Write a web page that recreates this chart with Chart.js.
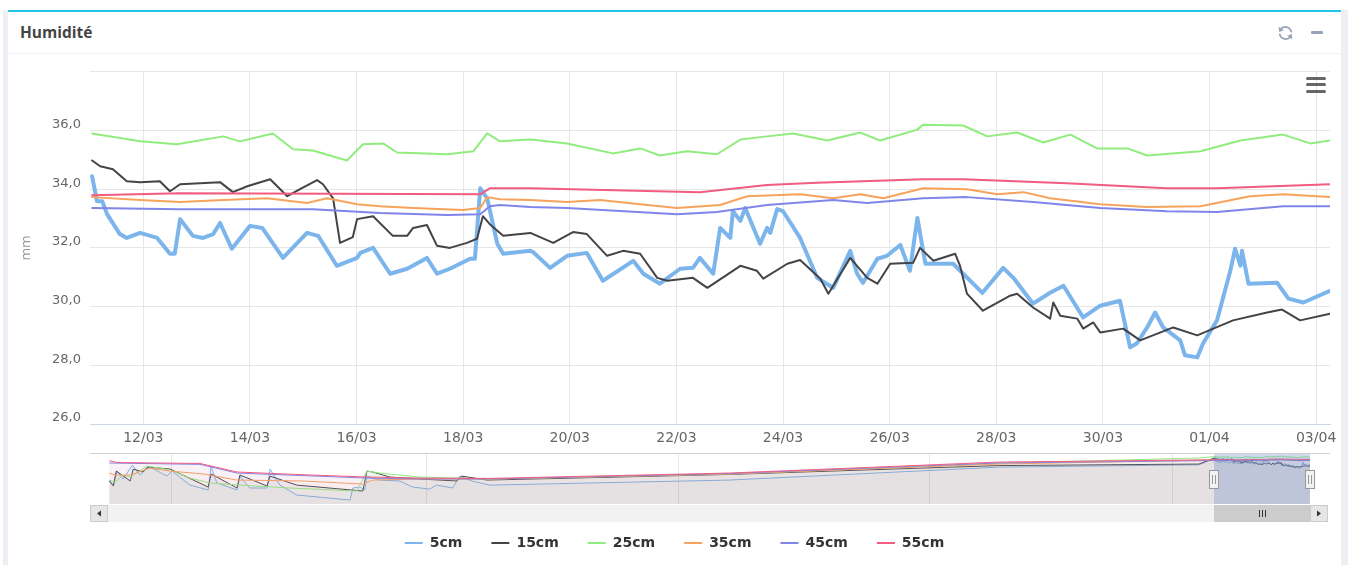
<!DOCTYPE html>
<html>
<head>
<meta charset="utf-8">
<script src="https://cdn.jsdelivr.net/npm/chart.js@4.4.0/dist/chart.umd.min.js"></script>
<style>
html, body { margin: 0; padding: 0; background: #fff; }
body { width: 1349px; height: 565px; position: relative; overflow: hidden; font-family: 'Open Sans', sans-serif; }
#page { position: absolute; left: 3px; top: 10px; width: 1345px; height: 555px; background: #eceff3; }
#card { position: absolute; left: 8px; top: 10px; width: 1333px; height: 555px; background: #fff; border-top: 2px solid #22c5e8; box-sizing: border-box; }
#headline { position: absolute; left: 8px; top: 53px; width: 1333px; height: 1px; background: #f2f2f2; }
#title { position: absolute; left: 20px; top: 22px; font-size: 15.5px; line-height: 20px; font-weight: 700; color: #444; }
#minus { position: absolute; left: 1311px; top: 31px; width: 12px; height: 3px; background: #97a3b6; border-radius: 1px; }
#menu { position: absolute; left: 1306px; top: 77px; width: 20px; height: 16px; z-index: 2; }
.bar { position: absolute; left: 0; width: 20px; height: 3px; background: #666; border-radius: 1.5px; }
canvas { position: absolute; left: 0; z-index: 1; }
</style>
</head>
<body>
<div id="page"></div>
<div id="card"></div>
<div id="headline"></div>
<div id="title">Humidité</div>
<svg style="position:absolute;left:1277px;top:25px" width="17" height="16" viewBox="0 0 17 16">
  <g fill="none" stroke="#97a3b6" stroke-width="1.8" stroke-linecap="round">
    <path d="M14.2 6.6 A6 6 0 0 0 3.4 4.6"/>
    <path d="M2.8 9.4 A6 6 0 0 0 13.6 11.4"/>
  </g>
  <path d="M1.6 1.8 L2.2 7 L6.8 5.2 Z" fill="#97a3b6"/>
  <path d="M15.4 14.2 L14.8 9 L10.2 10.8 Z" fill="#97a3b6"/>
</svg>
<div id="minus"></div>

<canvas id="main" width="1349" height="395" style="top:55px;width:1349px;height:395px"></canvas>
<canvas id="nav" width="1349" height="120" style="top:445px;width:1349px;height:120px"></canvas>

<div id="menu">
  <div class="bar" style="top:0"></div>
  <div class="bar" style="top:6px"></div>
  <div class="bar" style="top:13px"></div>
</div>

<script>
// jours depuis le 11/03/2023 00:00
const names = ['5cm', '15cm', '25cm', '35cm', '45cm', '55cm'];
const colors = ['#7cb5ec', '#434348', '#90ed7d', '#f7a35c', '#8085e9', '#f15c80'];

const tickDays = [1, 3, 5, 7, 9, 11, 13, 15, 17, 19, 21, 23];
const tickLabels = ['12/03', '14/03', '16/03', '18/03', '20/03', '22/03', '24/03', '26/03', '28/03', '30/03', '01/04', '03/04'];
const yTicks = [26, 28, 30, 32, 34, 36, 38];

const navTickDays = [-253, -191, -130, -69, -10];
const navTickLabels = ['07/2022', '09/2022', '11/2022', '01/2023', '03/2023'];

const t5 = [0.04,0.13,0.23,0.32,0.56,0.69,0.94,1.26,1.50,1.59,1.69,1.93,2.12,2.31,2.44,2.66,3.00,3.23,3.62,4.07,4.28,4.63,5.01,5.07,5.31,5.63,5.95,6.32,6.51,6.75,7.13,7.22,7.32,7.45,7.64,7.75,8.26,8.31,8.63,8.95,9.32,9.62,10.19,10.38,10.69,11.07,11.31,11.44,11.69,11.82,12.01,12.06,12.20,12.29,12.57,12.70,12.76,12.89,13.00,13.32,13.64,13.94,14.26,14.39,14.50,14.77,14.95,15.20,15.38,15.52,15.67,16.19,16.74,17.13,17.32,17.69,18.01,18.26,18.63,18.95,19.32,19.51,19.64,19.83,19.98,20.13,20.45,20.54,20.77,20.88,21.14,21.39,21.48,21.58,21.61,21.73,22.27,22.48,22.76,23.26];
const v5 = [34.44,33.59,33.59,33.15,32.47,32.34,32.51,32.34,31.80,31.80,32.98,32.41,32.34,32.47,32.85,31.97,32.75,32.68,31.66,32.51,32.41,31.39,31.66,31.83,32.00,31.12,31.29,31.66,31.12,31.29,31.63,31.63,34.03,33.69,32.14,31.80,31.90,31.86,31.32,31.73,31.83,30.88,31.56,31.12,30.78,31.29,31.32,31.66,31.12,32.68,32.34,33.25,32.92,33.36,32.14,32.68,32.51,33.32,33.25,32.34,30.98,30.64,31.90,31.12,30.81,31.63,31.73,32.10,31.22,33.02,31.46,31.46,30.47,31.32,30.98,30.10,30.47,30.71,29.63,30.03,30.20,28.61,28.75,29.29,29.80,29.29,28.85,28.34,28.27,28.75,29.53,31.22,31.97,31.39,31.90,30.78,30.81,30.27,30.14,30.54];

const t15 = [0.04,0.19,0.43,0.69,0.94,1.31,1.50,1.69,2.44,2.68,2.95,3.38,3.70,3.94,4.26,4.37,4.56,4.69,4.93,5.01,5.31,5.68,5.95,6.06,6.32,6.51,6.75,7.07,7.26,7.37,7.50,7.75,8.26,8.69,9.06,9.32,9.70,10.00,10.32,10.64,10.83,11.31,11.58,12.20,12.51,12.63,13.08,13.32,13.70,13.85,14.26,14.58,14.77,15.01,15.44,15.57,15.82,16.23,16.32,16.45,16.75,17.26,17.39,17.69,18.01,18.07,18.20,18.52,18.63,18.82,18.95,19.38,19.70,20.32,20.77,21.44,22.08,22.36,22.70,23.26];
const v15 = [34.98,34.78,34.68,34.27,34.24,34.27,33.93,34.17,34.24,33.90,34.10,34.34,33.76,34.00,34.31,34.17,33.69,32.17,32.37,32.98,33.08,32.41,32.41,32.68,32.78,32.07,32.00,32.17,32.31,33.08,32.81,32.41,32.51,32.17,32.54,32.47,31.73,31.90,31.80,30.98,30.88,30.98,30.64,31.39,31.22,30.95,31.46,31.59,30.95,30.44,31.66,30.98,30.78,31.46,31.49,32.00,31.56,31.80,31.39,30.44,29.86,30.37,30.44,29.97,29.59,30.14,29.69,29.59,29.25,29.46,29.12,29.25,28.85,29.29,29.02,29.53,29.80,29.90,29.53,29.76];

const t25 = [0.04,0.94,1.63,2.50,2.81,3.43,3.81,4.18,4.82,5.12,5.50,5.76,6.70,7.19,7.45,7.69,8.26,8.95,9.81,10.32,10.69,11.20,11.76,12.20,12.70,13.19,13.83,14.45,14.82,15.52,15.63,16.38,16.83,17.39,17.88,18.39,18.89,19.46,19.83,20.83,21.58,22.38,22.89,23.26];
const v25 = [35.90,35.63,35.53,35.80,35.63,35.90,35.36,35.32,34.98,35.53,35.56,35.25,35.19,35.29,35.90,35.63,35.69,35.56,35.22,35.39,35.15,35.29,35.19,35.69,35.80,35.90,35.66,35.93,35.66,36.03,36.20,36.17,35.80,35.93,35.59,35.86,35.39,35.39,35.15,35.29,35.66,35.86,35.56,35.66];

const t35 = [0.04,0.94,1.69,2.50,3.32,4.07,4.45,5.01,5.44,6.06,7.00,7.32,7.45,7.69,8.26,8.95,9.57,10.32,11.01,11.82,12.33,13.32,13.94,14.45,14.88,15.63,16.45,17.02,17.51,18.01,18.95,19.83,20.83,21.76,22.38,23.26];
const v35 = [33.73,33.63,33.56,33.63,33.69,33.53,33.69,33.49,33.42,33.36,33.29,33.36,33.73,33.66,33.63,33.56,33.63,33.49,33.36,33.46,33.76,33.83,33.69,33.83,33.69,34.03,34.00,33.83,33.90,33.69,33.49,33.39,33.42,33.76,33.83,33.73];

const t45 = [0.04,1.69,4.18,5.44,6.70,7.32,7.50,7.69,8.26,8.95,11.01,11.76,12.70,13.94,14.58,15.63,16.45,17.69,18.95,20.20,21.14,22.38,23.26];
const v45 = [33.36,33.32,33.32,33.19,33.12,33.15,33.42,33.46,33.39,33.36,33.15,33.22,33.46,33.63,33.53,33.69,33.73,33.56,33.36,33.25,33.22,33.42,33.42];

const t55 = [0.04,1.69,7.32,7.50,8.26,11.44,12.70,13.64,15.63,16.38,18.32,20.20,21.14,23.26];
const v55 = [33.79,33.86,33.83,34.03,34.03,33.90,34.14,34.22,34.34,34.34,34.20,34.03,34.03,34.17];

// navigateur : historique juin 2022 -> mars 2023
const navT5 = [-268,-267,-266.1,-264.6,-262.4,-260.5,-258.6,-254,-252.8,-248.4,-244,-243.3,-241.9,-237,-236.3,-233.9,-229.7,-229,-226.6,-222.5,-209.6,-208.9,-207.2,-206,-205.5,-202.4,-197.5,-194.4,-190.3,-188.6,-184.7,-183,-180.1,-175.7,-117.6,-52.2,-3.7];
const navV5 = [20.5,17.2,26.4,21.2,30.3,23.8,29.7,23.1,26.4,17.2,14.0,29.7,18.6,14.0,23.1,15.3,15.3,27.7,17.2,10.7,7.4,15.3,15.9,14.0,23.1,20.5,19.9,15.9,14.6,17.2,15.3,23.1,19.9,17.2,20.5,29.0,30.5];
const navT15 = [-268,-267,-266.3,-262.9,-262.2,-259.8,-258.6,-253.2,-244,-243.3,-237,-236.3,-229.7,-229,-222.5,-206.5,-205.5,-204.1,-200,-192.7,-183.7,-182.5,-176.4,-117.6,-52.2,-3.7];
const navV15 = [19.9,16.6,26.4,19.9,27.7,25.8,29.0,27.7,15.9,24.5,15.3,23.8,16.6,23.1,17.2,13.3,26.4,25.8,22.5,21.2,19.9,23.1,20.5,24.2,30.0,31.0];
const navT25 = [-268,-266.6,-264.6,-262.9,-258.8,-253.2,-248.4,-243.6,-236.3,-224.2,-207.9,-205.5,-202.4,-192.7,-175.7,-117.6,-52.2,-3.7];
const navV25 = [20.5,19.2,23.8,22.5,29.7,27.1,21.8,18.6,17.2,15.3,13.3,26.4,25.1,22.5,21.2,24.5,31.5,35.0];
const navT35 = [-268,-266.3,-262.9,-258.1,-253.2,-245.2,-237,-221,-206.5,-204.1,-192.7,-175.7,-117.6,-52.2,-3.7];
const navV35 = [25.1,23.8,23.8,28.4,26.4,24.5,20.5,19.9,17.9,20.5,21.2,21.2,24.5,31.0,33.5];
const navT45 = [-268,-246,-237,-205.5,-192.7,-175.7,-117.6,-52.2,-3.7];
const navV45 = [31.7,30.8,25.1,21.8,21.2,21.2,24.8,31.7,33.2];
const navT55 = [-268,-266,-246,-237,-221,-205.5,-192.7,-175.7,-117.6,-52.2,-3.7];
const navV55 = [33.2,32.0,31.4,25.8,24.0,22.5,21.8,21.6,25.1,32.3,33.7];

const viewStart = 0;
const viewEnd = 23.26;
const navStart = -268.3;

const mainT = [t5, t15, t25, t35, t45, t55];
const mainV = [v5, v15, v25, v35, v45, v55];
const navT = [navT5, navT15, navT25, navT35, navT45, navT55];
const navV = [navV5, navV15, navV25, navV35, navV45, navV55];

function pts(t, v) {
    return t.map((x, i) => ({ x, y: v[i] }));
}

function alpha(hex, a) {
    const n = parseInt(hex.slice(1), 16);
    return `rgba(${n >> 16}, ${(n >> 8) & 255}, ${n & 255}, ${a})`;
}

Chart.defaults.font.family = "'DejaVu Sans', sans-serif";

new Chart(document.getElementById('main'), {
    type: 'line',
    data: {
        datasets: names.map((name, i) => ({
            label: name,
            data: pts(mainT[i], mainV[i]),
            borderColor: colors[i],
            borderWidth: i === 0 ? 4 : 2,
            borderJoinStyle: 'round',
            borderCapStyle: 'round',
            pointRadius: 0,
            tension: 0,
            order: 5 - i
        }))
    },
    options: {
        responsive: false,
        animation: false,
        devicePixelRatio: 1,
        layout: { padding: { left: 17, right: 19, top: 14, bottom: 0 } },
        plugins: { legend: { display: false }, tooltip: { enabled: false } },
        scales: {
            x: {
                type: 'linear',
                min: viewStart,
                max: viewEnd,
                afterBuildTicks: s => { s.ticks = tickDays.map(v => ({ value: v })); },
                afterFit: s => { s.height = 26; },
                grid: { color: '#e6e6e6', drawTicks: false },
                border: { color: '#ccd6eb' },
                ticks: {
                    padding: 6, color: '#666', font: { size: 14 }, maxRotation: 0, autoSkip: false,
                    callback: v => tickLabels[tickDays.indexOf(v)]
                }
            },
            y: {
                min: 26,
                max: 38,
                afterBuildTicks: s => { s.ticks = yTicks.map(v => ({ value: v })); },
                afterFit: s => { s.width = 73; },
                grid: { color: '#e6e6e6', drawTicks: false },
                border: { display: false },
                ticks: {
                    padding: 9, labelOffset: -6, color: '#666', font: { size: 13 },
                    callback: v => v === 38 ? '' : v.toFixed(1).replace('.', ',')
                },
                title: { display: true, text: 'mm', color: '#999', font: { size: 13 }, padding: { top: 2, bottom: 0 } }
            }
        }
    }
});

const navExtras = {
    id: 'navExtras',
    beforeInit(chart) {
        const fit = chart.legend.fit;
        chart.legend.fit = function () {
            fit.bind(chart.legend)();
            this.height = 58;
        };
    },
    afterDatasetsDraw(chart) {
        const { ctx, chartArea: a, scales: { x } } = chart;
        const x0 = Math.round(x.getPixelForValue(viewStart));
        const x1 = Math.round(x.getPixelForValue(viewEnd));
        ctx.save();
        ctx.fillStyle = 'rgba(102, 133, 194, 0.3)';
        ctx.fillRect(x0, a.top, x1 - x0, a.bottom - a.top);

        ctx.strokeStyle = '#d0d0d0';
        ctx.lineWidth = 1;
        ctx.beginPath();
        ctx.moveTo(a.left - 18, a.top - 0.5);
        ctx.lineTo(a.right + 20, a.top - 0.5);
        ctx.stroke();

        // poignées
        const hy = Math.round((a.top + a.bottom) / 2 - 9);
        [x0, x1].forEach(hx => {
            ctx.fillStyle = '#f2f2f2';
            ctx.fillRect(hx - 4, hy, 8, 18);
            ctx.strokeStyle = '#999';
            ctx.strokeRect(hx - 4.5, hy + 0.5, 9, 18);
            ctx.beginPath();
            ctx.moveTo(hx - 1.5, hy + 5); ctx.lineTo(hx - 1.5, hy + 14);
            ctx.moveTo(hx + 1.5, hy + 5); ctx.lineTo(hx + 1.5, hy + 14);
            ctx.stroke();
        });

        // barre de défilement
        const sy = a.bottom + 1;
        const sh = 17;
        ctx.fillStyle = '#f2f2f2';
        ctx.fillRect(a.left, sy, a.right - a.left, sh);
        ctx.fillStyle = '#cccccc';
        ctx.fillRect(x0, sy, x1 - x0, sh);
        ctx.strokeStyle = '#333';
        const gx = Math.round((x0 + x1) / 2);
        ctx.beginPath();
        [-3, 0, 3].forEach(d => { ctx.moveTo(gx + d + 0.5, sy + 5); ctx.lineTo(gx + d + 0.5, sy + 12); });
        ctx.stroke();
        [[a.left - 18, -1], [a.right, 1]].forEach(([bx, dir]) => {
            ctx.fillStyle = '#e6e6e6';
            ctx.fillRect(bx, sy, 18, sh);
            ctx.strokeStyle = '#cccccc';
            ctx.strokeRect(bx + 0.5, sy + 0.5, 17, sh - 1);
            ctx.fillStyle = '#333';
            const cx = bx + 9, cy = sy + sh / 2;
            ctx.beginPath();
            ctx.moveTo(cx + 2 * dir, cy);
            ctx.lineTo(cx - 2 * dir, cy - 3);
            ctx.lineTo(cx - 2 * dir, cy + 3);
            ctx.closePath();
            ctx.fill();
        });
        ctx.restore();
    }
};

new Chart(document.getElementById('nav'), {
    type: 'line',
    data: {
        datasets: names.map((name, i) => ({
            label: name,
            data: pts(navT[i].concat(mainT[i]), navV[i].concat(mainV[i])),
            borderColor: colors[i],
            backgroundColor: alpha(colors[i], 0.05),
            fill: 'start',
            borderWidth: 1,
            pointRadius: 0,
            tension: 0,
            order: 5 - i
        }))
    },
    options: {
        responsive: false,
        animation: false,
        devicePixelRatio: 1,
        layout: { padding: { left: 39, right: 39, top: 9, bottom: 0 } },
        plugins: {
            tooltip: { enabled: false },
            legend: {
                position: 'bottom',
                labels: {
                    boxWidth: 18,
                    boxHeight: 2,
                    padding: 29,
                    color: '#333',
                    font: { size: 14, weight: 'bold' },
                    generateLabels: chart => chart.data.datasets.map((d, i) => ({
                        text: d.label, fillStyle: d.borderColor, strokeStyle: d.borderColor,
                        lineWidth: 0, hidden: false, datasetIndex: i, fontColor: '#333'
                    }))
                }
            }
        },
        scales: {
            x: {
                type: 'linear',
                min: navStart,
                max: viewEnd,
                afterBuildTicks: s => { s.ticks = navTickDays.map(v => ({ value: v })); },
                afterFit: s => { s.height = 3; },
                grid: { color: '#e6e6e6', drawTicks: false },
                border: { display: false },
                ticks: {
                    align: 'start', labelOffset: 5, padding: -17, color: '#999', font: { size: 14 },
                    maxRotation: 0, autoSkip: false,
                    callback: v => navTickLabels[navTickDays.indexOf(v)]
                }
            },
            y: {
                min: 4.8,
                max: 37.6,
                afterFit: s => { s.width = 69; },
                grid: { display: false },
                border: { display: false },
                ticks: { display: false }
            }
        }
    },
    plugins: [navExtras]
});
</script>
</body>
</html>
